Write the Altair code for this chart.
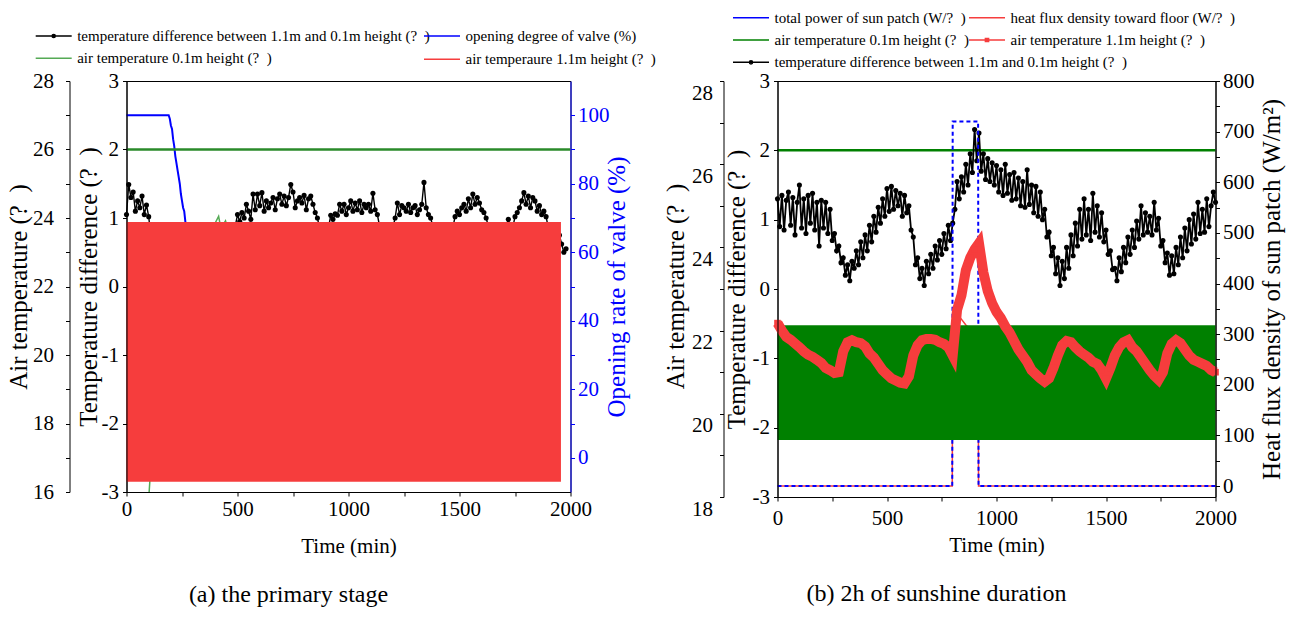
import altair as alt
import pandas as pd

FONT = "Liberation Serif"
RED = "#f63d3d"
BLUE = "#0000ff"
GREEN_A = "#55aa55"
GREEN_REF = "#2a8a2a"
GREEN_B = "#008000"
BLACK = "#000000"
QM = "? \u00a0"  # the unreadable unit glyph, as printed

# ---------------- panel (a): the primary stage ----------------
A_TIME = list(range(0, 1990, 10))
A_DIFF = [
    1.05, 1.49, 1.30, 1.38, 1.10, 1.25, 1.15, 1.32, 1.05, 1.19,
    1.02, 0.72, 0.55, 0.68, 0.50, 0.62, 0.45, 0.58, 0.40, 0.52,
    0.44, 0.60, 0.48, 0.55, 0.42, 0.58, 0.50, 0.63, 0.55, 0.66,
    0.52, 0.68, 0.60, 0.72, 0.62, 0.75, 0.66, 0.78, 0.70, 0.82,
    0.72, 0.85, 0.76, 0.86, 0.78, 0.88, 0.80, 0.86, 0.84, 0.88,
    1.05, 0.95, 1.08, 1.00, 1.20, 1.10, 0.98, 1.35, 1.12, 1.35,
    1.18, 1.37, 1.10, 1.25, 1.15, 1.22, 1.30, 1.12, 1.28, 1.35,
    1.20, 1.32, 1.18, 1.30, 1.49, 1.38, 1.15, 1.25, 1.30, 1.22,
    1.33, 1.12, 1.28, 1.32, 1.20, 1.08, 1.00, 0.85, 0.78, 0.88,
    0.80, 0.86, 1.04, 0.98, 1.06, 1.04, 1.20, 1.10, 1.20, 1.05,
    1.15, 1.25, 1.10, 1.22, 1.12, 1.25, 1.08, 1.20, 1.15, 1.20,
    1.10, 1.36, 1.12, 1.05, 0.88, 0.80, 0.86, 0.82, 0.88, 0.84,
    0.86, 1.00, 1.22, 1.05, 1.18, 1.15, 1.10, 1.20, 1.08, 1.15,
    1.18, 1.05, 1.12, 1.20, 1.52, 1.15, 1.05, 1.00, 0.88, 0.80,
    0.86, 0.78, 0.84, 0.76, 0.85, 0.80, 0.88, 0.86, 1.02, 1.10,
    1.05, 1.15, 1.20, 1.10, 1.28, 1.15, 1.35, 1.20, 1.30, 1.22,
    1.12, 1.08, 1.00, 0.88, 0.80, 0.85, 0.76, 0.82, 0.75, 0.84,
    0.80, 0.88, 0.98, 0.86, 0.86, 1.02, 1.08, 1.15, 1.25, 1.37,
    1.20, 1.32, 1.15, 1.30, 1.25, 1.10, 1.18, 1.05, 1.10, 1.02,
    0.86, 0.82, 0.88, 0.78, 0.84, 0.75, 0.62, 0.50, 0.55,
]
A_VALVE_T = [0, 190, 195, 200, 205, 210, 215, 220, 225, 230, 235, 240, 245,
             250, 255, 260, 265, 270, 300, 400, 600, 900, 1200, 1500, 1800, 1950]
A_VALVE = [100, 100, 99, 97, 96, 93, 91, 88, 86, 84, 82, 80, 77,
           75, 73, 72, 69, 66, 60, 52, 45, 40, 38, 37, 36, 36]
A_AIR01_T = [100, 108, 130, 200, 300, 380, 415, 425, 446, 460, 600, 900, 1200, 1500, 1800, 1950]
A_AIR01 = [15.8, 16.6, 18.5, 21.0, 22.8, 23.6, 24.05, 23.7, 23.92, 23.6, 23.4, 23.2, 23.3, 23.2, 23.4, 23.3]
A_AIR11_T = [0, 1957]
A_AIR11_HI = [23.88, 23.88]
A_AIR11_LO = [16.30, 16.30]
A_REF = [2.0]

# ---------------- panel (b): 2h of sunshine duration ----------------
B_TIME = list(range(0, 2010, 10))
B_DIFF = [
    1.30, 0.90, 1.35, 0.85, 1.28, 1.40, 0.92, 1.32, 0.78, 1.25,
    1.50, 0.88, 1.30, 0.80, 1.35, 0.95, 1.38, 0.85, 1.25, 0.62,
    1.28, 0.88, 1.25, 0.80, 1.15, 0.70, 0.80, 0.55, 0.62, 0.38,
    0.45, 0.20, 0.35, 0.12, 0.40, 0.30, 0.55, 0.35, 0.68, 0.45,
    0.78, 0.55, 0.92, 0.68, 1.05, 0.82, 1.18, 0.95, 1.30, 1.05,
    1.45, 1.12, 1.48, 1.15, 1.42, 1.20, 1.38, 1.05, 1.35, 1.10,
    1.20, 0.85, 0.75, 0.35, 0.45, 0.15, 0.30, 0.05, 0.40, 0.22,
    0.50, 0.30, 0.62, 0.42, 0.70, 0.50, 0.80, 0.58, 0.92, 0.70,
    0.95, 1.15, 1.55, 1.30, 1.62, 1.40, 1.80, 1.50, 1.95, 1.68,
    2.30, 1.85, 2.25, 1.70, 1.95, 1.58, 1.88, 1.55, 1.82, 1.50,
    1.78, 1.40, 1.72, 1.35, 1.80, 1.38, 1.65, 1.28, 1.68, 1.30,
    1.60, 1.20, 1.55, 1.18, 1.72, 1.22, 1.50, 1.10, 1.48, 1.05,
    1.40, 1.00, 1.15, 0.75, 0.82, 0.48, 0.60, 0.22, 0.45, 0.05,
    0.40, 0.15, 0.60, 0.30, 0.78, 0.48, 0.95, 0.62, 1.15, 0.72,
    1.30, 0.78, 1.15, 0.70, 1.38, 0.82, 1.20, 0.75, 1.10, 0.68,
    0.85, 0.50, 0.55, 0.28, 0.30, 0.12, 0.45, 0.25, 0.60, 0.38,
    0.75, 0.50, 0.85, 0.60, 0.98, 0.72, 1.20, 0.78, 1.10, 0.82,
    1.05, 0.78, 1.25, 0.85, 1.02, 0.62, 0.70, 0.38, 0.52, 0.20,
    0.48, 0.22, 0.60, 0.35, 0.75, 0.45, 0.88, 0.55, 1.00, 0.65,
    1.08, 0.72, 1.25, 0.80, 1.15, 0.82, 1.30, 0.90, 1.20, 1.40,
    1.25,
]
B_AIR11_T = list(range(0, 2020, 20))
B_AIR11 = [
    22.18, 22.00, 21.85, 21.78, 21.69, 21.60, 21.50, 21.42, 21.37, 21.30,
    21.22, 21.10, 21.05, 20.98, 21.00, 21.50, 21.72, 21.77, 21.72, 21.70,
    21.62, 21.45, 21.35, 21.20, 21.05, 20.95, 20.85, 20.80, 20.75, 20.73,
    20.90, 21.40, 21.65, 21.77, 21.80, 21.80, 21.78, 21.72, 21.68, 21.60,
    21.40, 22.50, 22.85, 23.45, 23.75, 23.95, 24.10, 23.40, 22.95, 22.66,
    22.45, 22.30, 22.10, 21.95, 21.75, 21.55, 21.40, 21.25, 21.05, 20.95,
    20.85, 20.77, 20.85, 21.10, 21.40, 21.65, 21.75, 21.72, 21.60, 21.50,
    21.42, 21.35, 21.25, 21.20, 21.05, 20.85, 21.10, 21.40, 21.60, 21.72,
    21.77, 21.60, 21.50, 21.35, 21.20, 21.05, 20.92, 20.82, 21.00, 21.45,
    21.68, 21.77, 21.70, 21.55, 21.40, 21.30, 21.25, 21.20, 21.15, 21.05,
    21.00,
]
B_AIR01_T = [0, 2000]
B_AIR01_HI = [22.13, 22.13]
B_AIR01_LO = [19.37, 19.37]
B_POWER_T = [0, 798, 800, 916, 918, 2000]
B_POWER = [0, 0, 720, 720, 0, 0]
B_FLUX_T = [0, 798, 800, 830, 860, 890, 916, 918, 2000]
B_FLUX = [0, 0, 345, 335, 318, 305, 295, 0, 0]
B_REF = [2.0]

X_TICKS = [0, 250, 500, 750, 1000, 1250, 1500, 1750, 2000]
DIFF_TICKS = [-3, -2.5, -2, -1.5, -1, -0.5, 0, 0.5, 1, 1.5, 2, 2.5, 3]
AIR_A_TICKS = [16, 17, 18, 19, 20, 21, 22, 23, 24, 25, 26, 27, 28]
AIR_B_TICKS = [18, 19, 20, 21, 22, 23, 24, 25, 26, 27, 28]
VALVE_TICKS = [0, 10, 20, 30, 40, 50, 60, 70, 80, 90, 100]
FLUX_TICKS = [0, 50, 100, 150, 200, 250, 300, 350, 400, 450, 500, 550, 600, 650, 700, 750, 800]

# legend entries
LAB_DIFF = "temperature difference between 1.1m and 0.1m height (" + QM + ")"
LAB_VALVE = "opening degree of valve (%)"
LAB_AIR01 = "air temperature 0.1m height (" + QM + ")"
LAB_AIR11_A = "air temperaure 1.1m height (" + QM + ")"
LAB_AIR11_B = "air temperature 1.1m height (" + QM + ")"
LAB_POWER = "total power of sun patch (W/" + QM + ")"
LAB_FLUX = "heat flux density toward floor (W/" + QM + ")"

LINE_PATH = "M-1,0H8"
DOT_PATH = "M-1,0H8M3.9,0A0.4,0.4,0,1,1,3.1,0A0.4,0.4,0,1,1,3.9,0Z"
SQ_PATH = "M-1,0H8M3.1,-0.4H3.9V0.4H3.1Z"
ROW = 22.3


def make_legend(labels, lx, ly, shape=LINE_PATH):
    expr = ""
    for i, l in enumerate(labels):
        expr += "datum.value === 'e" + str(i) + "' ? '" + l + "' : "
    expr += "''"
    return alt.Legend(
        title=None, orient="none", legendX=lx, legendY=ly, columns=1, direction="vertical",
        gridAlign="each", rowPadding=ROW - 15, labelExpr=expr,
        labelFont=FONT, labelFontSize=15, labelColor="black", labelLimit=900,
        labelOffset=30, symbolSize=64, symbolType=shape, symbolOpacity=1, padding=0)


def legend_layer(labels, colors, width, lx, ly, shape=LINE_PATH, dash=None):
    codes = ["e" + str(i) for i in range(len(labels))]
    leg = make_legend(labels, lx, ly, shape)
    mk = dict(strokeWidth=width)
    if dash:
        mk["strokeDash"] = dash
    return alt.Chart(pd.DataFrame({"k": codes})).transform_filter("false").mark_line(**mk).encode(
        x=alt.value(0), y=alt.value(0),
        color=alt.Color("k:N", scale=alt.Scale(domain=codes, range=colors), legend=leg))


def y_axis(orient, offset, ticks, test, title, tx, ty, color="black", pad=4, loff=0):
    return alt.Axis(
        orient=orient, offset=offset, values=ticks,
        labelExpr="(" + test + ") ? replace(datum.label, '\u2212', '-') : ''",
        format="d", title=title, titleX=tx, titleY=ty, titleAngle=270,
        titleAlign="center", titleBaseline="middle", titleFont=FONT, titleFontSize=25,
        titleFontWeight="normal", titleColor=color, labelFont=FONT, labelFontSize=21,
        labelColor=color, labelPadding=pad, labelOffset=loff, tickSize=4,
        tickColor=color, domainColor=color, grid=False, labelFlush=False,
        labelOverlap=False, zindex=1)


def x_axis(title_y, pad):
    return alt.Axis(
        orient="bottom", values=X_TICKS, labelExpr="datum.value % 500 === 0 ? datum.label : ''",
        format="d", title="Time (min)", titleY=title_y, titleBaseline="middle", titleFont=FONT,
        titleFontSize=21, titleFontWeight="normal", titleColor="black", labelFont=FONT,
        labelFontSize=21, labelColor="black", labelPadding=pad, tickSize=4, grid=False,
        labelFlush=False, labelOverlap=False, domainColor="black", tickColor="black", zindex=1)


def sc(lo, hi):
    return alt.Scale(domain=[lo, hi], nice=False, zero=False)


def caption(text):
    return alt.TitleParams(text=text, orient="bottom", anchor="middle", frame="group", dx=-60,
                           offset=27, font=FONT, fontSize=24, fontWeight="normal", color="black")


# ---------- panel (a)
W_A, H_A = 444, 411
LX_A, LY_A = -94.3, -52.5
df_ad = pd.DataFrame({"x": A_TIME, "y": A_DIFF})
df_av = pd.DataFrame({"x": A_VALVE_T, "y": A_VALVE})
df_ag = pd.DataFrame({"x": A_AIR01_T, "y": A_AIR01})
df_ar = pd.DataFrame({"x": A_AIR11_T, "hi": A_AIR11_HI, "lo": A_AIR11_LO})
df_aref = pd.DataFrame({"y": A_REF})
xa = alt.X("x:Q", scale=sc(0, 2000), axis=x_axis(54, 2))
ax_diff_a = y_axis("left", 0, DIFF_TICKS, "datum.value % 1 === 0",
                   "Temperature difference (" + QM + ")", -38, H_A / 2)
ax_air_a = y_axis("left", 57, AIR_A_TICKS, "datum.value % 2 === 0",
                  "Air temperature (" + QM + ")", -51, H_A / 2, pad=12)
ax_valve = y_axis("right", 0, VALVE_TICKS, "datum.value % 20 === 0",
                  "Opening rate of valve (%)", 46, H_A / 2, color=BLUE, pad=3)
a1 = alt.Chart(df_ad).mark_line(strokeWidth=1.4, color=BLACK).encode(
    x=xa, y=alt.Y("y:Q", scale=sc(-3, 3), axis=ax_diff_a))
a2 = alt.Chart(df_ad).mark_circle(size=26, color=BLACK, opacity=1).encode(
    x=xa, y=alt.Y("y:Q", scale=sc(-3, 3), axis=None))
a3 = alt.Chart(df_av).mark_line(strokeWidth=2, color=BLUE).encode(
    x=xa, y=alt.Y("y:Q", scale=sc(-10, 110), axis=ax_valve))
a4 = alt.Chart(df_ag).mark_line(strokeWidth=1.5, clip=True, color=GREEN_A).encode(
    x=xa, y=alt.Y("y:Q", scale=sc(16, 28), axis=ax_air_a))
a5 = alt.Chart(df_ar).mark_area(color=RED, opacity=1).encode(
    x=xa, y=alt.Y("hi:Q", scale=sc(16, 28), axis=None), y2="lo:Q")
a6 = alt.Chart(df_aref).mark_rule(color=GREEN_REF, strokeWidth=2.5).encode(
    y=alt.Y("y:Q", scale=sc(-3, 3), axis=None))
la1 = legend_layer([LAB_DIFF], [BLACK], 1, LX_A, LY_A, shape=DOT_PATH)
la2 = legend_layer([LAB_AIR01], [GREEN_A], 1.5, LX_A, LY_A + ROW)
la3 = legend_layer([LAB_VALVE, LAB_AIR11_A], [BLUE, RED], 2.2, 294, LY_A)
left = alt.layer(a1, a2, a3, a4, a5, a6, la1, la2, la3).resolve_scale(
    y="independent", color="independent").properties(
    width=W_A, height=H_A, title=caption("(a) the primary stage"))

# ---------- panel (b)
W_B, H_B = 438, 416
LX_B, LY_B = -48, -70.8
df_bd = pd.DataFrame({"x": B_TIME, "y": B_DIFF})
df_bt = pd.DataFrame({"x": B_AIR11_T, "y": B_AIR11})
df_bg = pd.DataFrame({"x": B_AIR01_T, "hi": B_AIR01_HI, "lo": B_AIR01_LO})
df_bp = pd.DataFrame({"x": B_POWER_T, "y": B_POWER})
df_bh = pd.DataFrame({"x": B_FLUX_T, "y": B_FLUX})
df_bref = pd.DataFrame({"y": B_REF})
xb = alt.X("x:Q", scale=sc(0, 2000), axis=x_axis(48, 6))
ax_diff_b = y_axis("left", 0, DIFF_TICKS, "datum.value % 1 === 0",
                   "Temperature difference (" + QM + ")", -41, H_B / 2)
ax_air_b = y_axis("left", 54, AIR_B_TICKS, "datum.value % 2 === 0",
                  "Air temperature (" + QM + ")", -48, H_B / 2 - 3, pad=7, loff=12)
ax_flux = y_axis("right", 0, FLUX_TICKS, "datum.value % 100 === 0",
                 "Heat flux density of sun patch (W/m\u00b2)", 56, H_B / 2, pad=3)
b_flux = alt.Chart(df_bh).mark_line(strokeWidth=1.5, color=RED).encode(
    x=xb, y=alt.Y("y:Q", scale=sc(-21.7, 800), axis=None))
b_ref = alt.Chart(df_bref).mark_rule(color=GREEN_B, strokeWidth=2.5).encode(
    y=alt.Y("y:Q", scale=sc(-3, 3), axis=None))
b_black = alt.Chart(df_bd).mark_line(strokeWidth=1.8, color=BLACK).encode(
    x=xb, y=alt.Y("y:Q", scale=sc(-3, 3), axis=ax_diff_b))
b_pts = alt.Chart(df_bd).mark_circle(size=26, color=BLACK, opacity=1).encode(
    x=xb, y=alt.Y("y:Q", scale=sc(-3, 3), axis=None))
b_power = alt.Chart(df_bp).mark_line(strokeWidth=2, strokeDash=[4, 3], color=BLUE).encode(
    x=xb, y=alt.Y("y:Q", scale=sc(-21.7, 800), axis=ax_flux))
b_green = alt.Chart(df_bg).mark_area(color=GREEN_B, opacity=1).encode(
    x=xb, y=alt.Y("hi:Q", scale=sc(18, 28), axis=None), y2="lo:Q")
b_red = alt.Chart(df_bt).mark_line(strokeWidth=10, color=RED).encode(
    x=xb, y=alt.Y("y:Q", scale=sc(18, 28), axis=ax_air_b))
b_sq = alt.Chart(df_bt).mark_square(size=44, color=RED, opacity=1).encode(
    x=xb, y=alt.Y("y:Q", scale=sc(18, 28), axis=None))
lb1 = legend_layer([LAB_POWER], [BLUE], 2, LX_B, LY_B, dash=[4, 3])
lb2 = legend_layer([LAB_FLUX], [RED], 2, 188, LY_B)
lb3 = legend_layer([LAB_AIR01], [GREEN_B], 3.5, LX_B, LY_B + ROW)
lb4 = legend_layer([LAB_AIR11_B], [RED], 1.2, 188, LY_B + ROW, shape=SQ_PATH)
lb5 = legend_layer([LAB_DIFF], [BLACK], 1, LX_B, LY_B + 2 * ROW, shape=DOT_PATH)
right = alt.layer(b_flux, b_ref, b_black, b_pts, b_power, b_green, b_red, b_sq,
                  lb1, lb2, lb3, lb4, lb5).resolve_scale(
    y="independent", color="independent").properties(
    width=W_B, height=H_B, title=caption("(b) 2h of sunshine duration"))

chart = alt.hconcat(left, right, spacing=207, bounds="flush").resolve_scale(
    color="independent").properties(
    padding={"left": 5.5, "top": 9, "right": 5, "bottom": 5},
    background="white").configure_view(stroke="black", strokeWidth=1).configure_axis(
    labelFont=FONT, titleFont=FONT, titleFontWeight="normal")

chart.save("out.html", embed_options={"renderer": "svg", "actions": False})
